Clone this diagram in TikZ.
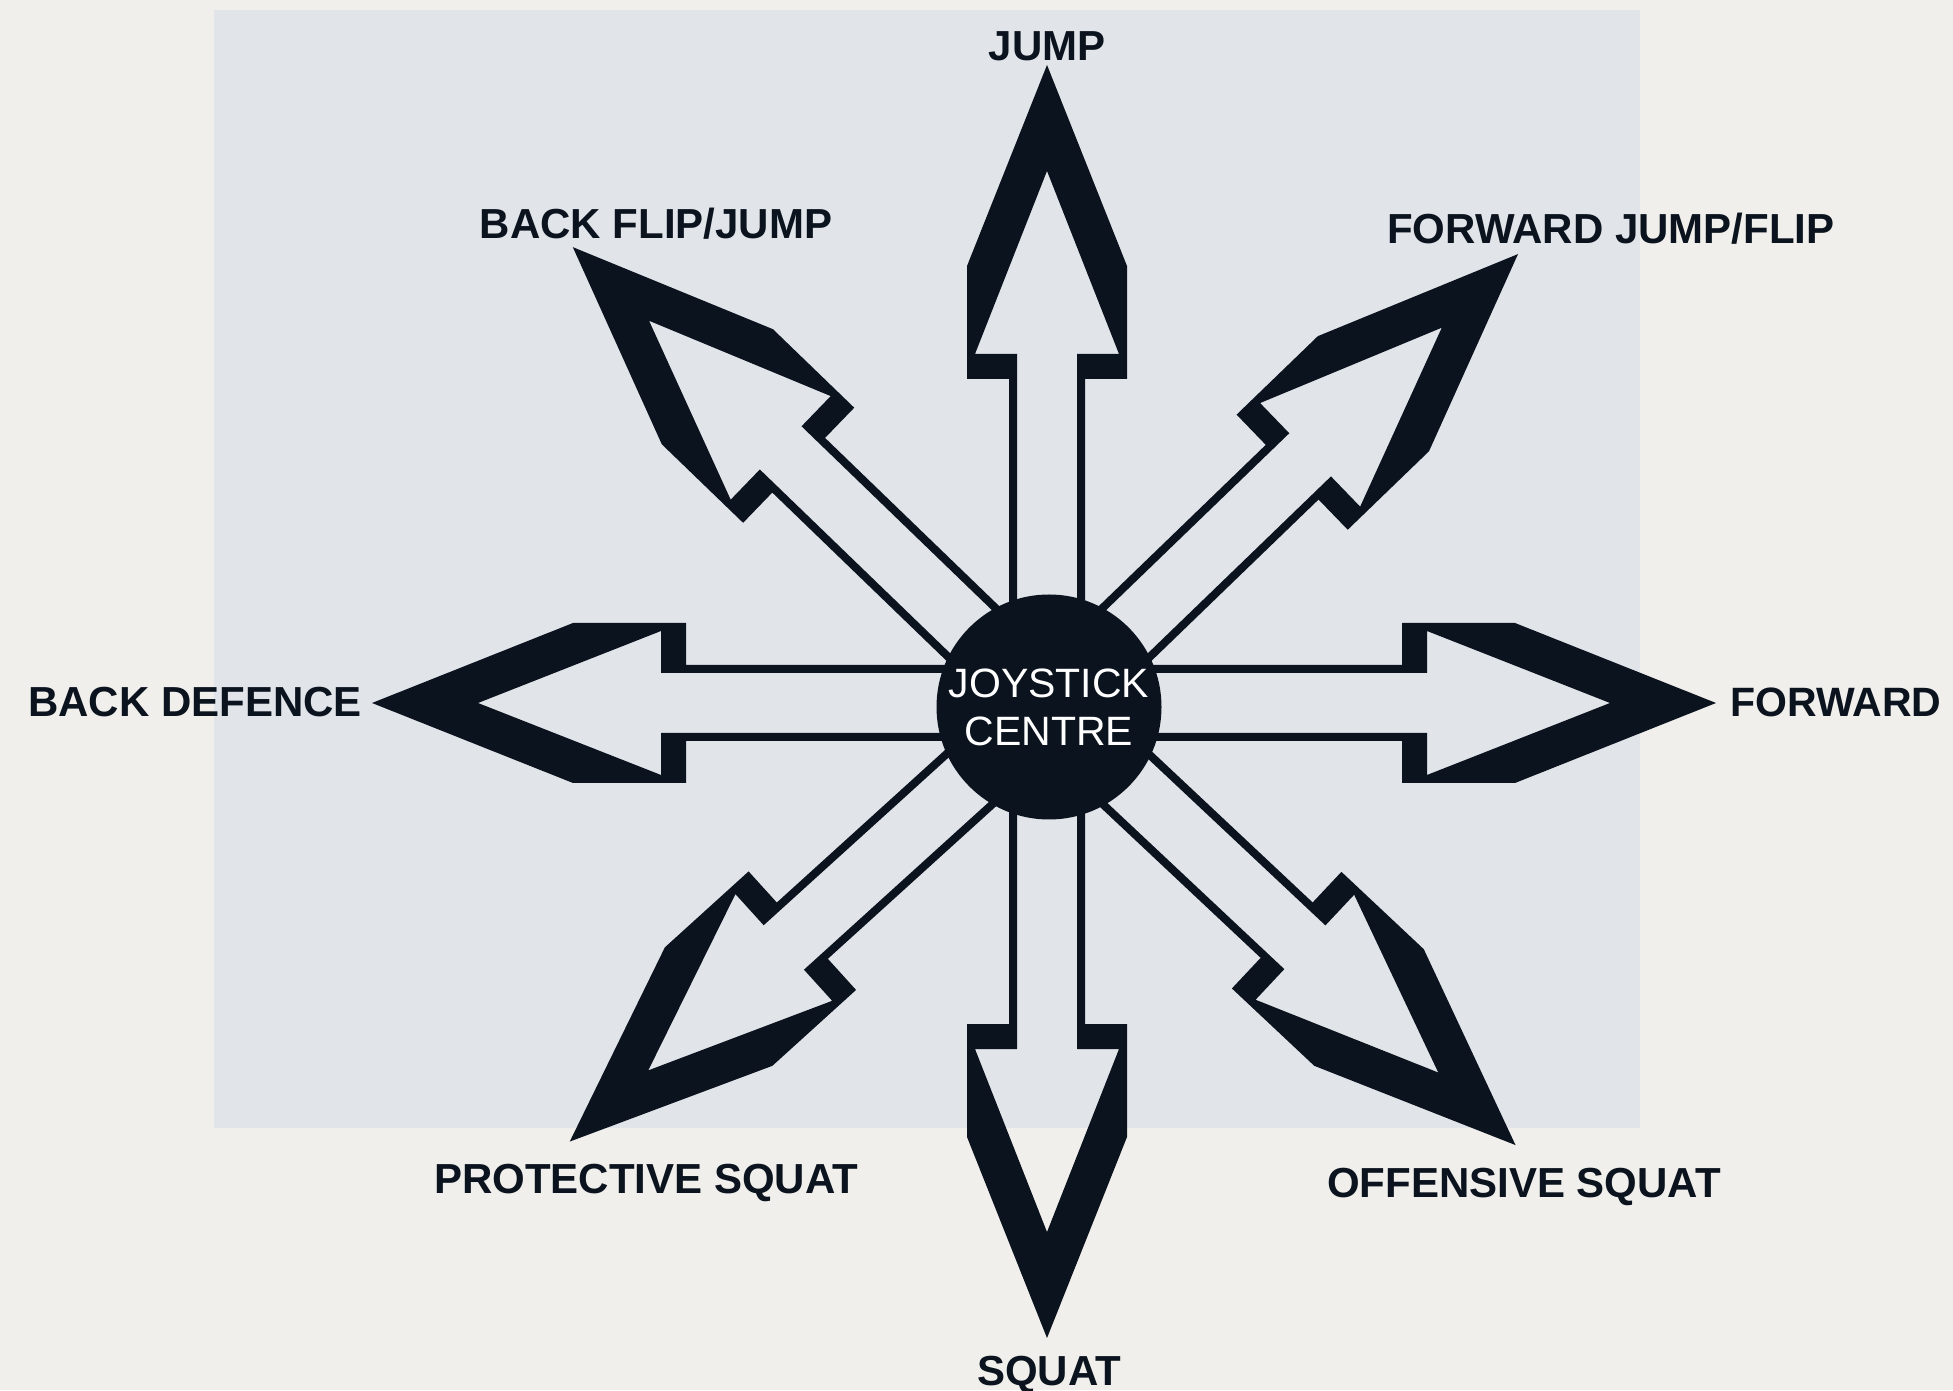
\documentclass[tikz,border=0pt]{standalone}
\usepackage{fontspec}
\setmainfont{Liberation Sans}
\definecolor{ink}{HTML}{0B131E}
\definecolor{paper}{HTML}{F0EFEC}
\definecolor{panel}{HTML}{E1E4E9}
% #1 angle, #2 tip distance, #3 extra options
\newcommand\joyarrow[3]{%
  \fill[ink, even odd rule, shift={(ctr)}, #3, rotate=#1]
    (#2,0) -- ({#2-201},80) -- ({#2-314},80) -- ({#2-314},38) -- (0,38)
    -- (0,-38) -- ({#2-314},-38) -- ({#2-314},-80) -- ({#2-201},-80) -- cycle
    ({#2-106},0) -- ({#2-289},72) -- ({#2-289},30) -- (0,30)
    -- (0,-30) -- ({#2-289},-30) -- ({#2-289},-72) -- cycle;}
\tikzset{
  lbl/.style={font=\fontsize{42}{42}\selectfont\bfseries, text=ink, inner sep=0pt},
  hub/.style={circle, fill=ink, minimum size=225pt, inner sep=0pt, text=white,
    align=center, font=\fontsize{41}{48}\selectfont}
}
\begin{document}
\begin{tikzpicture}[x=1pt,y=1pt]
\useasboundingbox (0,0) rectangle (1953,1390);
\fill[paper] (0,0) rectangle (1953,1390);
\fill[panel] (214,262) rectangle (1640,1380);
\coordinate (ctr) at (1049,683);
% arrows
\joyarrow{90}{642}{xshift=-2pt}
\joyarrow{270}{631}{xshift=-2pt}
\joyarrow{0}{667}{yshift=4pt}
\joyarrow{180}{677}{yshift=4pt}
\joyarrow{136}{662}{}
\joyarrow{44}{652}{}
\joyarrow{222.2}{647}{}
\joyarrow{316.8}{640}{}
% hub
\node[hub] (centre) at (ctr) {JOYSTICK\\CENTRE};
% labels
\node[lbl, anchor=base] (jump) at (1047,1329) {JUMP};
\node[lbl, anchor=base] (backflip) at (656,1151) {BACK FLIP/JUMP};
\node[lbl, anchor=base west] (fwdjump) at (1387,1146) {FORWARD JUMP/FLIP};
\node[lbl, anchor=base east] (backdef) at (362,673) {BACK DEFENCE};
\node[lbl, anchor=base west, font=\fontsize{41}{41}\selectfont\bfseries] (forward) at (1730,673) {FORWARD};
\node[lbl, anchor=base] (protsq) at (646,197) {PROTECTIVE SQUAT};
\node[lbl, anchor=base] (offsq) at (1524,193) {OFFENSIVE SQUAT};
\node[lbl, anchor=base] (squat) at (1049,5) {SQUAT};
\end{tikzpicture}
\end{document}
